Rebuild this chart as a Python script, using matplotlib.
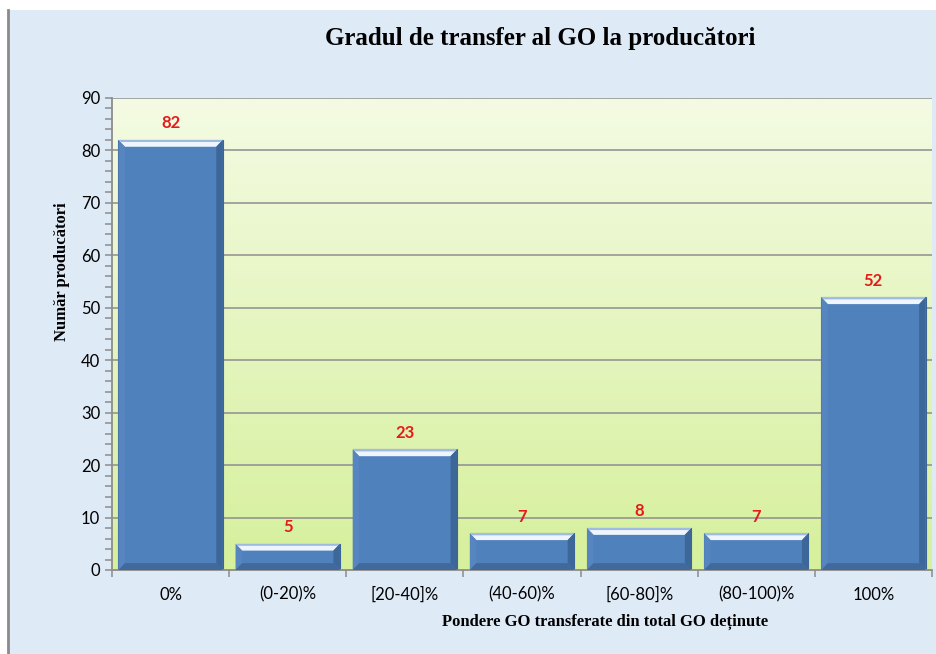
import numpy as np
from matplotlib import pyplot as plt
from matplotlib.patches import Polygon, Rectangle
from matplotlib.colors import LinearSegmentedColormap

categories = ["0%", "(0-20)%", "[20-40]%", "(40-60)%", "[60-80]%", "(80-100)%", "100%"]
values = [82, 5, 23, 7, 8, 7, 52]
y_ticks = [0, 10, 20, 30, 40, 50, 60, 70, 80, 90]

title = "Gradul de transfer al GO la producători"
x_title = "Pondere GO transferate din total GO deținute"
y_title = "Număr producători"

serif = ["Liberation Serif", "DejaVu Serif"]
sans = ["Lato", "DejaVu Sans"]

fig = plt.figure(figsize=(9.36, 6.54), dpi=100)
fig.patch.set_facecolor("white")

# light blue backdrop with thin grey left border (white band on top)
bg = fig.add_axes([0, 0, 1, 1], zorder=0)
bg.set_xlim(0, 936)
bg.set_ylim(654, 0)
bg.axis("off")
bg.add_patch(Rectangle((8, 10), 930, 650, facecolor="#dfeaf7", edgecolor="none"))
bg.plot([8, 8], [10, 654], color="#8a8a8a", lw=2)

ax = fig.add_axes([112 / 936, 1 - 570 / 654, 820 / 936, 472 / 654], zorder=2)
ax.set_facecolor("none")

# plot area gradient
grad = LinearSegmentedColormap.from_list("g", ["#d6f09c", "#f4fbe3"])
ax.imshow(np.linspace(0, 1, 256).reshape(-1, 1), cmap=grad, aspect="auto",
          extent=[0, 1, 0, 1], transform=ax.transAxes, origin="lower", zorder=0)

x = np.arange(len(categories))
w = 0.89
ax.set_xlim(-0.5, len(categories) - 0.5)
ax.set_ylim(0, 90)

for yv in y_ticks[1:]:
    ax.axhline(yv, color="#959595", lw=1.2, zorder=1)

bars = ax.bar(x, values, width=w, color="#4f81bd", edgecolor="#3b6597", lw=0.8, zorder=2)

# bevel effect
bx = 0.055
by = 1.3
for b in bars:
    x0 = b.get_x()
    x1 = x0 + b.get_width()
    h = b.get_height()
    byy = min(by, h * 0.3)
    ax.add_patch(Polygon([(x0, h), (x1, h), (x1 - bx, h - byy), (x0 + bx, h - byy)],
                         closed=True, facecolor="#eef5fd", edgecolor="none", zorder=3))
    ax.add_patch(Polygon([(x0, h), (x1, h), (x1 - bx * 0.4, h - byy * 0.3), (x0 + bx * 0.4, h - byy * 0.3)],
                         closed=True, facecolor="#9dbbe0", edgecolor="none", zorder=3))
    ax.add_patch(Polygon([(x1, h), (x1, 0), (x1 - bx, byy), (x1 - bx, h - byy)],
                         closed=True, facecolor="#3d6799", edgecolor="none", zorder=3))
    ax.add_patch(Polygon([(x0, h), (x0, 0), (x0 + bx, byy), (x0 + bx, h - byy)],
                         closed=True, facecolor="#5685c0", edgecolor="none", zorder=3))
    ax.add_patch(Polygon([(x0, 0), (x1, 0), (x1 - bx, byy), (x0 + bx, byy)],
                         closed=True, facecolor="#41699c", edgecolor="none", zorder=3))
    ax.text(b.get_x() + b.get_width() / 2, h + 3.2, str(int(h)), ha="center", va="center",
            color="#e41b1b", fontsize=12, fontweight="bold", family=sans, zorder=4)

for s in ["top", "right"]:
    ax.spines[s].set_visible(False)
ax.spines["left"].set_color("#8c8c8c")
ax.spines["bottom"].set_color("#8c8c8c")
ax.spines["left"].set_linewidth(1.3)
ax.spines["bottom"].set_linewidth(1.3)

ax.set_yticks(y_ticks)
ax.set_yticks(np.arange(0, 91, 2), minor=True)
ax.tick_params(axis="y", which="both", direction="out", length=5, color="#8c8c8c", width=1.1)
ax.set_yticklabels([str(v) for v in y_ticks], family=sans, fontsize=12)

ax.set_xticks(x)
ax.set_xticklabels(categories, family=sans, fontsize=12)
ax.set_xticks(np.arange(-0.5, len(categories), 1), minor=True)
ax.tick_params(axis="x", which="major", length=0, pad=12)
ax.tick_params(axis="x", which="minor", direction="out", length=5, color="#8c8c8c", width=1.1)

fig.text(540 / 936, 1 - 38 / 654, title, ha="center", va="center",
         family=serif, fontweight="bold", fontsize=18)
fig.text(605 / 936, 1 - 622 / 654, x_title, ha="center", va="center",
         family=serif, fontweight="bold", fontsize=12)
fig.text(62 / 936, 1 - 272 / 654, y_title, ha="center", va="center", rotation=90,
         family=serif, fontweight="bold", fontsize=12)

fig.savefig("out.png", dpi=100, facecolor=fig.get_facecolor())
